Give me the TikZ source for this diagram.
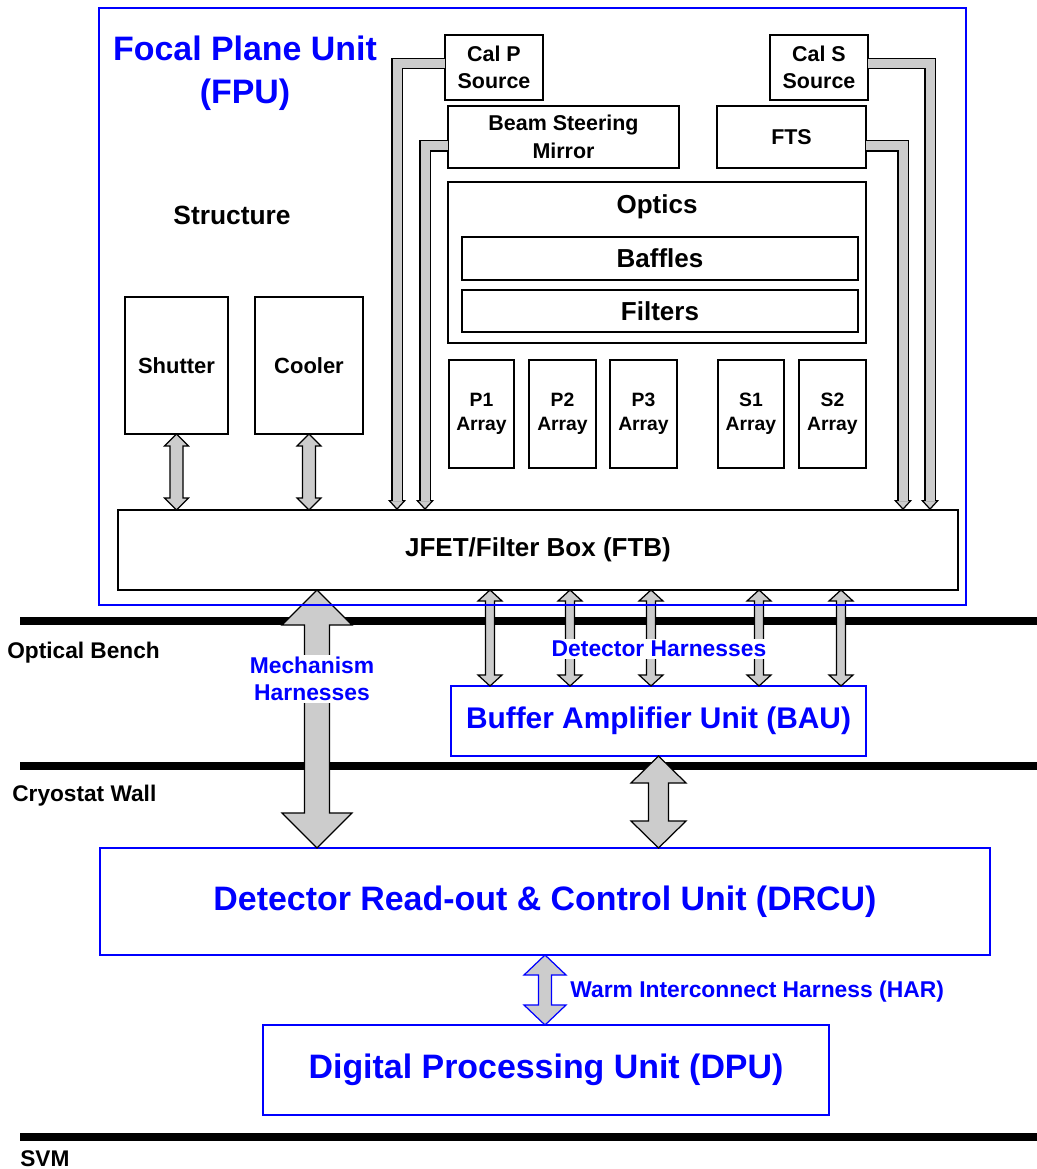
\documentclass[tikz,border=0pt]{standalone}
\usepackage{fontspec}
\setmainfont{Liberation Sans}
\usetikzlibrary{positioning, calc, arrows.meta}
\definecolor{unitblue}{RGB}{0,0,255}
\definecolor{pipegray}{RGB}{204,204,204}

% double headed block arrow: style, top end, bottom end, half shaft, half head, head length
\newcommand{\blockarrow}[6]{%
  \coordinate (bat) at (#2);
  \coordinate (bab) at (#3);
  \draw[#1] (bat) -- ++(#5,#6) -- ++(#4-#5,0) -- ($(bab)+(#4,-#6)$) -- ++(#5-#4,0)
    -- (bab) -- ++(-#5,-#6) -- ++(#5-#4,0) -- ($(bat)+(-#4,#6)$) -- ++(#4-#5,0) -- cycle;}

\begin{document}
\begin{tikzpicture}[x=0.02cm, y=-0.02cm,
    box/.style={rectangle, draw, line width=0.9pt, inner sep=0pt, outer sep=0pt, align=center},
    unit/.style={rectangle, draw=unitblue, line width=0.9pt, inner sep=0pt, outer sep=0pt, align=center, text=unitblue},
    wh/.style 2 args={minimum width=#1*0.02cm, minimum height=#2*0.02cm},
    fbig/.style={font=\bfseries\fontsize{19.3}{24.4}\selectfont},
    fbau/.style={font=\bfseries\fontsize{17}{20}\selectfont},
    fmid/.style={font=\bfseries\fontsize{14.8}{18}\selectfont},
    fshut/.style={font=\bfseries\fontsize{12.5}{15}\selectfont},
    fsmall/.style={font=\bfseries\fontsize{12.2}{15.6}\selectfont},
    farray/.style={font=\bfseries\fontsize{11}{13.6}\selectfont},
    fharn/.style={font=\bfseries\fontsize{13}{15.3}\selectfont},
    harness/.style={draw=black, line width=0.7pt, fill=pipegray},
    pipe/.style={draw=black, line width=0.7pt, double=pipegray, double distance=0.18cm},
    pipehead/.style={draw=black, line width=0.7pt, -{Triangle[fill=pipegray, width=0.36cm, length=0.2cm]}},
    wall/.style={line width=0.15cm},
    tag/.style={anchor=west, inner sep=0pt, font=\bfseries\fontsize{12.9}{15}\selectfont}
  ]
  \useasboundingbox (0,0) rectangle (1037,1169);

  % walls
  \draw[wall] (20,621) -- (1037,621);
  \draw[wall] (20,766) -- (1037,766);
  \draw[wall] (20,1137) -- (1037,1137);
  \node[tag] (bench) at (7,653) {Optical Bench};
  \node[tag] (cryo) at (12,796) {Cryostat Wall};
  \node[tag] (svm) at (20,1159) {SVM};

  % FPU contents
  \node[box, wh={840}{80}, fmid] (jfet) at (538,550) {JFET/Filter Box (FTB)};
  \node[box, wh={103}{137}, fshut] (shutter) at (176.5,365.5) {Shutter};
  \node[box, wh={108}{137}, fshut] (cooler) at (309,365.5) {Cooler};
  \node[font=\bfseries\fontsize{15}{18}\selectfont] (structure) at (232,215) {Structure};
  \node[box, wh={98}{65}, fsmall] (calp) at (494,67.5) {Cal P\\Source};
  \node[box, wh={98}{65}, fsmall] (cals) at (819,67.5) {Cal S\\Source};
  \node[box, wh={231}{62}, fsmall] (bsm) at (563.5,137) {Beam Steering\\Mirror};
  \node[box, wh={149}{62}, fsmall] (fts) at (791.5,137) {FTS};
  \node[box, wh={418}{161}] (optics) at (657,262.5) {};
  \node[fmid] (opticslbl) at (657,207) {Optics};
  \node[box, wh={396}{43}, fmid] (baffles) at (660,258.5) {Baffles};
  \node[box, wh={396}{42}, fmid] (filters) at (660,311) {Filters};
  \node[box, wh={65}{108}, farray] (p1) at (481.5,414) {P1\\Array};
  \node[box, wh={67}{108}, farray, right=0.3cm of p1] (p2) {P2\\Array};
  \node[box, wh={67}{108}, farray, right=0.28cm of p2] (p3) {P3\\Array};
  \node[box, wh={66}{108}, farray, right=0.82cm of p3] (s1) {S1\\Array};
  \node[box, wh={67}{108}, farray, right=0.3cm of s1] (s2) {S2\\Array};

  % warm units
  \node[unit, wh={415}{70}, fbau] (bau) at (658.5,721) {Buffer Amplifier Unit (BAU)};
  \node[unit, wh={890}{107}, fbig] (drcu) at (545,901.5) {Detector Read-out \& Control Unit (DRCU)};
  \node[unit, wh={566}{90}, fbig] (dpu) at (546,1070) {Digital Processing Unit (DPU)};

  % harnesses
  \blockarrow{harness}{shutter.south}{jfet.north -| shutter.south}{6.5}{12}{12}
  \blockarrow{harness}{cooler.south}{jfet.north -| cooler.south}{6.5}{12}{12}
  \foreach \x [count=\i] in {490,570,651,759,841} {
    \coordinate (det\i) at (\x,0);
    \blockarrow{harness}{jfet.south -| det\i}{bau.north -| det\i}{4.5}{12}{11}
  }
  \coordinate (mech) at (317,0);
  \blockarrow{harness}{jfet.south -| mech}{drcu.north -| mech}{12.5}{35}{35}
  \blockarrow{harness}{bau.south}{drcu.north -| bau.south}{10}{27.5}{27}
  \blockarrow{harness, draw=unitblue}{drcu.south}{dpu.north -| drcu.south}{6.5}{21}{20}

  % pipes into the FTB
  \coordinate (calpx) at (397,0);
  \coordinate (bsmx) at (425,0);
  \coordinate (ftsx) at (903,0);
  \coordinate (calsx) at (930,0);
  \foreach \src/\dy/\col in {calp.west/0.08/calpx, bsm.west/-0.18/bsmx, fts.east/-0.18/ftsx, cals.east/0.08/calsx} {
    \draw[pipehead] ([yshift=0.22cm]jfet.north -| \col) -- (jfet.north -| \col);
    \draw[pipe] ([yshift=\dy cm]\src) -| ([yshift=0.19cm]jfet.north -| \col);
  }

  % FPU frame
  \node[unit, wh={867}{597}] (fpu) at (532.5,306.5) {};
  \node[fbig, text=unitblue, align=center] (fputitle) at (245,73) {Focal Plane Unit\\(FPU)};

  % harness labels
  \node[fharn, text=unitblue, fill=white, align=center, inner sep=1pt] (mechlbl) at (312,679) {Mechanism\\Harnesses};
  \node[fharn, text=unitblue, fill=white, inner sep=1pt] (detlbl) at (659,649) {Detector Harnesses};
  \node[fharn, text=unitblue, anchor=west, inner sep=0pt] (warmlbl) at (570,992) {Warm Interconnect Harness (HAR)};
\end{tikzpicture}
\end{document}
